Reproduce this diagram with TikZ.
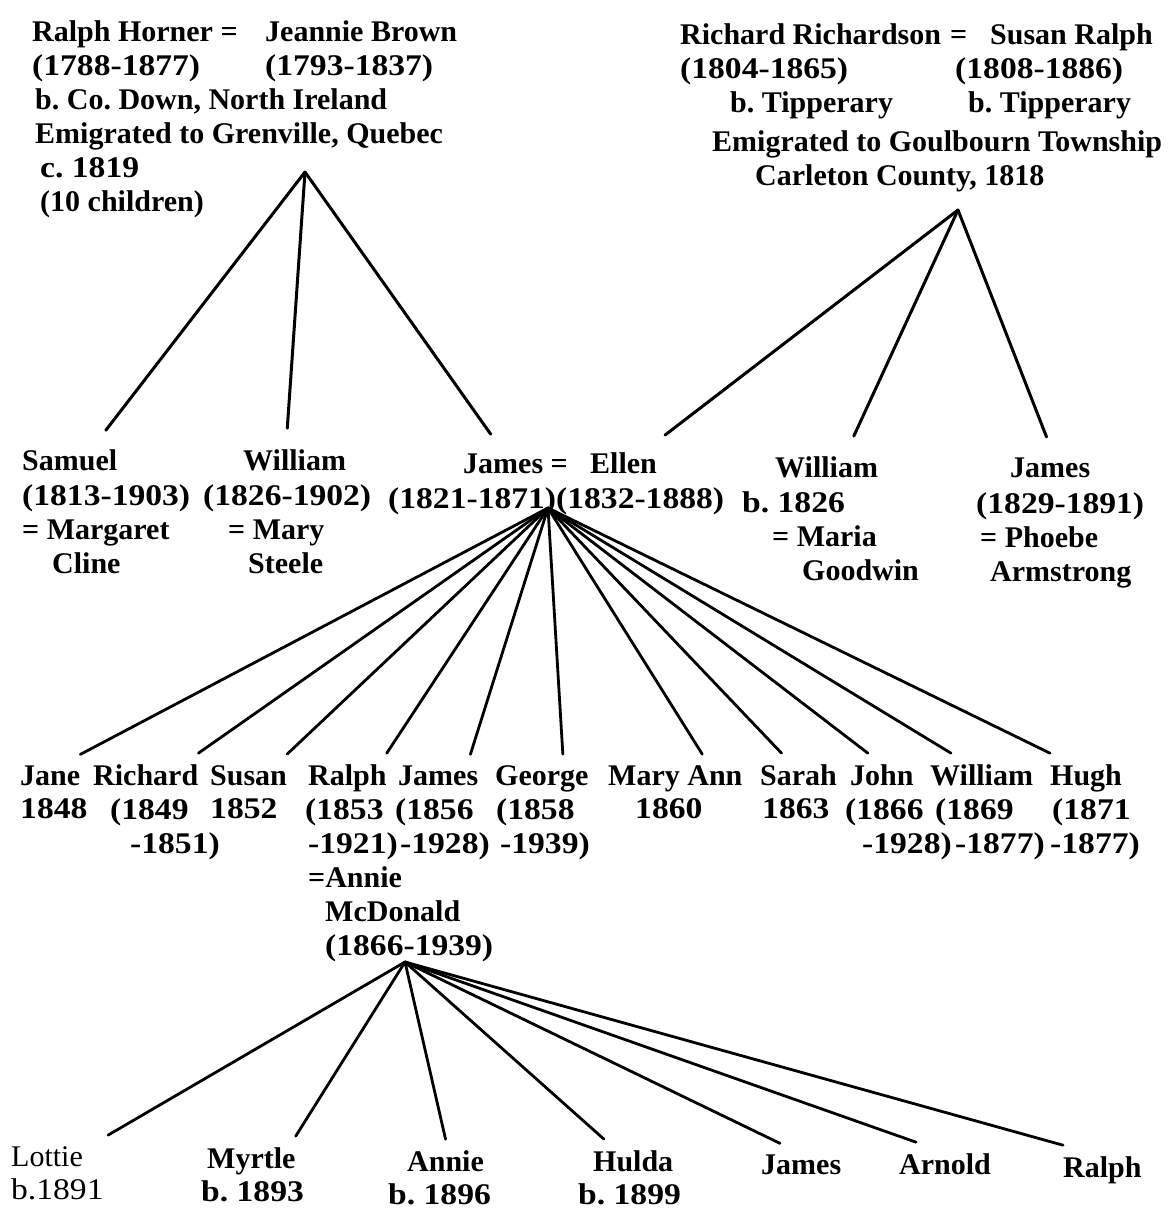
\documentclass[tikz,border=0pt]{standalone}
\usepackage{fontspec}
\setmainfont{Liberation Serif}
\newfontfamily\datefont[FakeStretch=1.12]{Liberation Serif}
\usetikzlibrary{positioning}

\newcommand{\treefont}{\fontsize{30}{34}\selectfont}
\newcommand{\yrs}[1]{{\datefont#1}}
\frenchspacing

\tikzset{
  person/.style={anchor=base west, inner sep=0pt, outer ysep=11pt, font=\treefont\bfseries},
  facts/.style={anchor=north west, inner sep=0pt, align=left, font=\treefont\bfseries},
  kin/.style={line width=2.8pt, line cap=round},
  elder/.style={kin, line width=3pt, shorten >=10pt},
}

\begin{document}
\begin{tikzpicture}[x=1pt, y=-1pt]
    \useasboundingbox (0,0) rectangle (1170,1210);

    % Horner couple
    \node[facts] (horner) at (32,20) {Ralph Horner =\\\yrs{(1788-1877)}};
    \node[facts] (brown) at (265,20) {Jeannie Brown\\\yrs{(1793-1837)}};
    \node[facts] (hornerfacts) at (35,88) {b. Co. Down, North Ireland\\Emigrated to Grenville, Quebec\\\hspace*{5pt}\yrs{c. 1819}\\\hspace*{5pt}(10 children)};
    \coordinate (hornerhub) at (305,172);

    % Richardson couple
    \node[facts] (richardson) at (680,23) {Richard Richardson\hspace{9pt}=\\\yrs{(1804-1865)}\\\hspace*{50pt}b. Tipperary};
    \node[facts] (susanralph) at (955,23) {\hspace*{35pt}Susan Ralph\\\yrs{(1808-1886)}\\\hspace*{13pt}b. Tipperary};
    \node[facts] (richfacts) at (712,130) {Emigrated to Goulbourn Township\\\hspace*{43pt}Carleton County, 1818};
    \coordinate (richhub) at (958,210);

    % second generation
    \node[person] (samuel) at (22,470) {Samuel};
    \node[facts] (samuelfacts) at (22,484) {\yrs{(1813-1903)}\\= Margaret\\\hspace*{30pt}Cline};
    \node[person] (williamh) at (243,470) {William};
    \node[facts] (williamhfacts) at (203,484) {\yrs{(1826-1902)}\\\hspace*{25pt}= Mary\\\hspace*{45pt}Steele};
    \node[person] (jamesh) at (463,473) {James =};
    \node[person] (ellen) at (590,473) {Ellen};
    \node[facts] (jameshfacts) at (388,487) {\yrs{(1821-1871)(1832-1888)}};
    \node[person] (williamr) at (775,477) {William};
    \node[facts] (williamrfacts) at (742,491) {\yrs{b. 1826}\\\hspace*{30pt}= Maria\\\hspace*{60pt}Goodwin};
    \node[person] (jamesr) at (1010,477) {James};
    \node[facts] (jamesrfacts) at (976,492) {\yrs{(1829-1891)}\\\hspace*{4pt}= Phoebe\\\hspace*{14pt}Armstrong};
    \coordinate (jameshub) at (548,508);

    \draw[elder] (hornerhub) -- ([xshift=30pt]samuel.north);
    \draw[elder] (hornerhub) -- ([xshift=-8pt]williamh.north);
    \draw[elder] (hornerhub) -- ([xshift=-19pt]jamesh.north);
    \draw[elder] (richhub) -- (ellen.north east);
    \draw[elder] (richhub) -- ([xshift=23pt]williamr.north);
    \draw[elder] (richhub) -- (jamesr.north);

    % children of James and Ellen
    \node[person] (jane) at (20,785) {Jane};
    \node[facts] (janefacts) at (20,798) {\yrs{1848}};
    \node[person] (richard) at (93,785) {Richard};
    \node[facts] (richardfacts) at (110,798) {\yrs{(1849}\\\hspace*{20pt}\yrs{-1851)}};
    \node[person] (susan) at (210,785) {Susan};
    \node[facts] (susanfacts) at (210,798) {\yrs{1852}};
    \node[person] (ralph) at (308,785) {Ralph};
    \node[facts] (ralphfacts) at (305,798) {\yrs{(1853}\\\hspace*{3pt}\yrs{-1921)}\\\hspace*{3pt}=Annie\\\hspace*{20pt}McDonald\\\hspace*{20pt}\yrs{(1866-1939)}};
    \node[person] (jamesc) at (398,785) {James};
    \node[facts] (jamescfacts) at (395,798) {\yrs{(1856}\\\hspace*{5pt}\yrs{-1928)}};
    \node[person] (george) at (495,785) {George};
    \node[facts] (georgefacts) at (496,798) {\yrs{(1858}\\\hspace*{4pt}\yrs{-1939)}};
    \node[person] (maryann) at (608,785) {Mary Ann};
    \node[facts] (maryannfacts) at (635,798) {\yrs{1860}};
    \node[person] (sarah) at (760,785) {Sarah};
    \node[facts] (sarahfacts) at (762,798) {\yrs{1863}};
    \node[person] (john) at (850,785) {John};
    \node[facts] (johnfacts) at (845,798) {\yrs{(1866}\\\hspace*{17pt}\yrs{-1928)}};
    \node[person] (williamc) at (930,785) {William};
    \node[facts] (williamcfacts) at (935,798) {\yrs{(1869}\\\hspace*{20pt}\yrs{-1877)}};
    \node[person] (hugh) at (1050,785) {Hugh};
    \node[facts] (hughfacts) at (1052,798) {\yrs{(1871}\\\hspace*{-2pt}\yrs{-1877)}};
    \coordinate (ralphhub) at (405,962);

    \draw[kin] (jameshub) -- (jane.north east);
    \draw[kin] (jameshub) -- (richard.north east);
    \draw[kin] (jameshub) -- (susan.north east);
    \draw[kin] (jameshub) -- (ralph.north east);
    \draw[kin] (jameshub) -- ([xshift=-8pt]jamesc.north east);
    \draw[kin] (jameshub) -- ([xshift=21pt]george.north);
    \draw[kin] (jameshub) -- ([xshift=27pt]maryann.north);
    \draw[kin] (jameshub) -- ([xshift=-17pt]sarah.north);
    \draw[kin] (jameshub) -- ([xshift=-14pt]john.north);
    \draw[kin] (jameshub) -- ([xshift=21pt]williamc.north west);
    \draw[kin] (jameshub) -- (hugh.north west);

    % children of Ralph and Annie
    \node[person, font=\treefont] (lottie) at (11,1166) {Lottie};
    \node[facts, font=\treefont] (lottiefacts) at (11,1178) {\yrs{b.1891}};
    \node[person] (myrtle) at (207,1168) {Myrtle};
    \node[facts] (myrtlefacts) at (201,1180) {\yrs{b. 1893}};
    \node[person] (annie) at (407,1171) {Annie};
    \node[facts] (anniefacts) at (388,1183) {\yrs{b. 1896}};
    \node[person] (hulda) at (593,1171) {Hulda};
    \node[facts] (huldafacts) at (578,1183) {\yrs{b. 1899}};
    \node[person] (jamesg) at (761,1174) {James};
    \node[person] (arnold) at (899,1174) {Arnold};
    \node[person] (ralphg) at (1063,1177) {Ralph};

    \draw[kin] (ralphhub) -- ([xshift=25pt]lottie.north east);
    \draw[kin] (ralphhub) -- (myrtle.north east);
    \draw[kin] (ralphhub) -- (annie.north);
    \draw[kin] (ralphhub) -- ([xshift=11pt]hulda.north west);
    \draw[kin] (ralphhub) -- ([xshift=19pt]jamesg.north west);
    \draw[kin] (ralphhub) -- ([xshift=17pt]arnold.north west);
    \draw[kin] (ralphhub) -- (ralphg.north west);
\end{tikzpicture}
\end{document}
